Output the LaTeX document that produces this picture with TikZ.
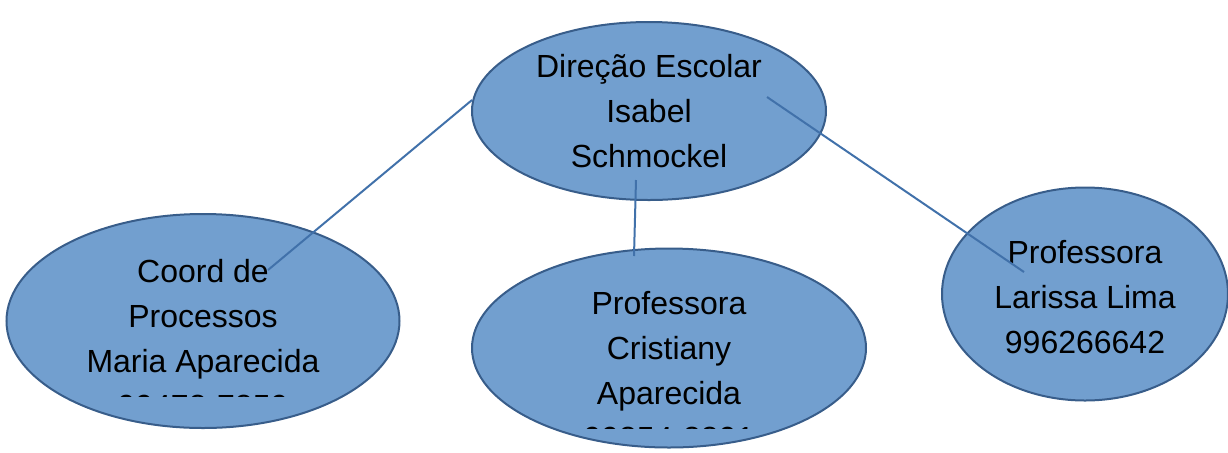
\documentclass[tikz,border=0pt]{standalone}
\usepackage{fontspec}
\setmainfont{Liberation Sans}
\usetikzlibrary{shapes.geometric}
\definecolor{efill}{RGB}{114,159,207}
\definecolor{eline}{RGB}{56,93,138}
\definecolor{cline}{RGB}{65,113,170}
\begin{document}
\begin{tikzpicture}[x=0.5pt,y=-0.5pt,
  bubble/.style={ellipse,draw=eline,fill=efill,line width=1pt,inner sep=0pt},
  label/.style={align=center,inner sep=0pt,font=\fontsize{16}{22.5}\selectfont,text=black},
  link/.style={draw=cline,line width=1pt}]
\useasboundingbox (0,0) rectangle (1228,452);
% ellipses
\node[bubble,minimum width=177pt,minimum height=89pt] (top) at (649,111) {};
\node[bubble,minimum width=196.5pt,minimum height=107pt] (left) at (203,321) {};
\node[bubble,minimum width=197pt,minimum height=99.5pt] (mid) at (669,348) {};
\node[bubble,minimum width=143pt,minimum height=106.5pt] (right) at (1085,294) {};
% texts
\node[label] (ttop) at (649,111) {Direção Escolar\\Isabel\\Schmockel};
\begin{scope}
\clip (0,0) rectangle (1228,396);
\node[label] (tleft) at (203,339) {Coord de\\Processos\\Maria Aparecida\\99478-7859};
\end{scope}
\begin{scope}
\clip (0,0) rectangle (1228,428);
\node[label] (tmid) at (669,371) {Professora\\Cristiany\\Aparecida\\99854-8891};
\end{scope}
\node[label] (tright) at (1085,297) {Professora\\Larissa Lima\\996266642};
% connector ends
\coordinate (a1) at (472,100);
\coordinate (a2) at (268,270);
\coordinate (b1) at (636,180);
\coordinate (b2) at (634,256);
\coordinate (c1) at (767,97);
\coordinate (c2) at (1024,272);
\draw[link] (a1) -- (a2);
\draw[link] (b1) -- (b2);
\draw[link] (c1) -- (c2);
\end{tikzpicture}
\end{document}
